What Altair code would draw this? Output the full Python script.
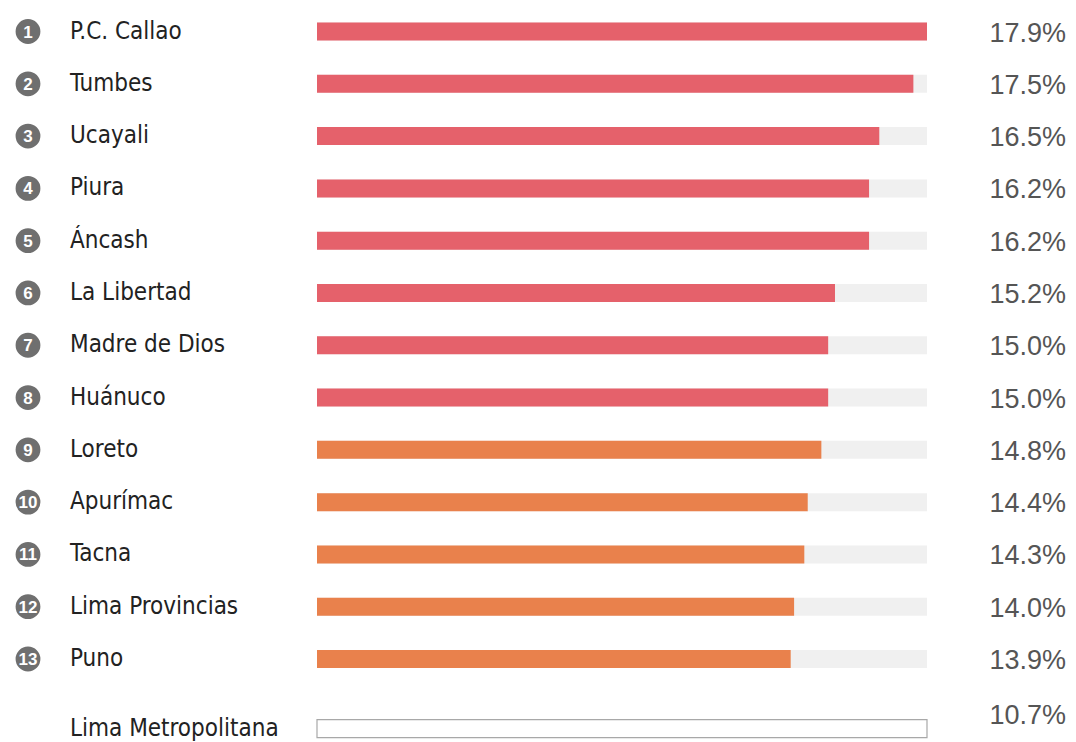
import altair as alt
import pandas as pd

regions = ["P.C. Callao", "Tumbes", "Ucayali", "Piura", "Áncash", "La Libertad",
           "Madre de Dios", "Huánuco", "Loreto", "Apurímac", "Tacna",
           "Lima Provincias", "Puno"]
values = [17.9, 17.5, 16.5, 16.2, 16.2, 15.2, 15.0, 15.0, 14.8, 14.4, 14.3, 14.0, 13.9]
groups = ["alto"] * 8 + ["medio"] * 5
ref_name = "Lima Metropolitana"
ref_value = 10.7

RED = "#e5616b"
ORANGE = "#e9814c"
TRACK = "#f0f0f0"
LABEL_FONT = "DejaVu Sans Condensed, Roboto, sans-serif"

track_max = max(values)

df = pd.DataFrame({
    "region": regions,
    "value": values,
    "group": groups,
    "rank": list(range(1, len(regions) + 1)),
})
df["row"] = df["rank"]
df["label"] = df["value"].map(lambda v: f"{v:.1f}%")
df["rank_txt"] = df["rank"].astype(str)
df["zero"] = 0.0
df["full"] = track_max

ref = pd.DataFrame({
    "region": [ref_name],
    "value": [ref_value],
    "row": [len(regions) + 1.33],
    "label": [f"{ref_value:.1f}%"],
    "zero": [0.0],
    "full": [track_max],
})

xs = alt.Scale(domain=[0, track_max], range=[309, 919], nice=False, zero=False, padding=0)
ys = alt.Scale(domain=[1, 13], range=[23.5, 651], nice=False, zero=False, padding=0)

X = lambda f: alt.X(f"{f}:Q", scale=xs, axis=None)
Y = alt.Y("row:Q", scale=ys, axis=None)

base = alt.Chart(df)
rbase = alt.Chart(ref)

track = base.mark_bar(size=18, color=TRACK, orient="horizontal").encode(
    x=X("zero"), x2="full:Q", y=Y)

bars = base.mark_bar(size=18, orient="horizontal").encode(
    x=X("zero"), x2="value:Q", y=Y,
    color=alt.Color("group:N", scale=alt.Scale(domain=["alto", "medio"], range=[RED, ORANGE]), legend=None))

circles = base.mark_circle(size=616, color="#6f6f6f", opacity=1).encode(
    x=alt.value(20), y=Y)

nums = base.mark_text(color="white", fontWeight="bold", font="Liberation Sans", fontSize=17,
                      align="center", baseline="middle", dy=1).encode(
    x=alt.value(20), y=Y, text="rank_txt:N")

names = base.mark_text(font=LABEL_FONT, fontSize=24, color="#222222",
                       align="left", baseline="middle").encode(
    x=alt.value(62), y=Y, text="region:N")

vals = base.mark_text(font="Liberation Sans", fontSize=27, color="#555555",
                      align="right", baseline="middle", dy=2).encode(
    x=alt.value(1058), y=Y, text="label:N")

ref_track = rbase.mark_bar(size=18, color="white", stroke="#a8a8a8", strokeWidth=1.2,
                           orient="horizontal").encode(
    x=alt.X("zero:Q", scale=xs, axis=None), x2="full:Q", y=Y)

ref_name_t = rbase.mark_text(font=LABEL_FONT, fontSize=24, color="#222222",
                             align="left", baseline="middle").encode(
    x=alt.value(62), y=Y, text="region:N")

ref_val_t = rbase.mark_text(font="Liberation Sans", fontSize=27, color="#555555",
                            align="right", baseline="middle", dy=-13).encode(
    x=alt.value(1058), y=Y, text="label:N")

chart = alt.layer(track, bars, circles, nums, names, vals, ref_track, ref_name_t, ref_val_t).properties(
    width=1060, height=734, padding=0, autosize=alt.AutoSizeParams(type="none"),
    background="white"
).configure_view(stroke=None)

chart.save("out.html", embed_options={"renderer": "svg", "actions": False})
